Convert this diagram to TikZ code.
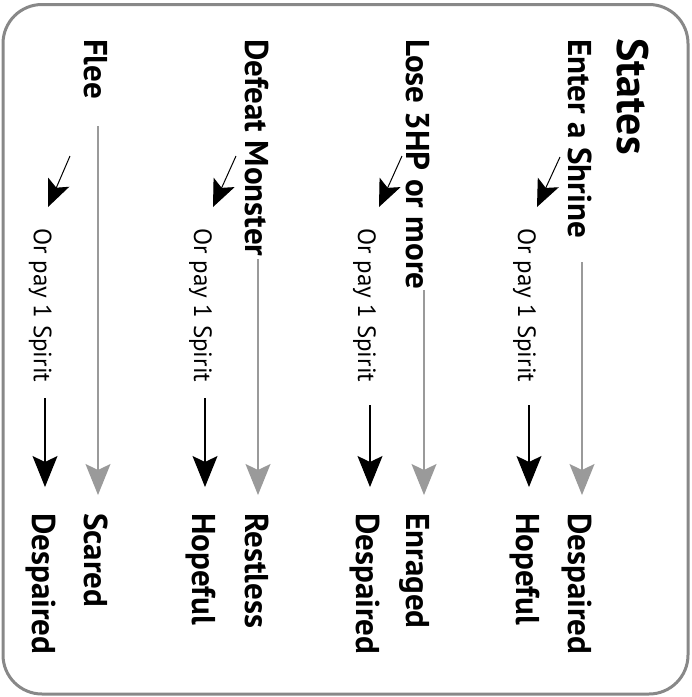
\documentclass[tikz,border=0pt]{standalone}
\usepackage{fontspec}
\setmainfont{PT Sans}
\usetikzlibrary{arrows.meta}
\definecolor{framegray}{HTML}{888888}
\definecolor{arrowgray}{HTML}{9A9A9A}
\begin{document}
\begin{tikzpicture}[x=1pt,y=-1pt,
  frame/.style={draw=framegray, line width=3pt, rounded corners=39pt},
  label/.style={rotate=-90, anchor=base west, inner sep=0pt},
  statelabel/.style={label, font=\fontsize{33}{40}\selectfont\bfseries},
  altlabel/.style={label, font=\fontsize{25}{30}\selectfont},
  titlelabel/.style={label, font=\fontsize{44}{52}\selectfont\bfseries},
  tip/.style={-{Stealth[length=31pt,width=25pt,inset=6pt]}},
  grayarrow/.style={tip, draw=arrowgray, line width=1.3pt},
  blackarrow/.style={tip, draw=black, line width=1.1pt},
  hintarrow/.style={-{Stealth[length=27pt,width=23pt,inset=6pt]}, draw=black, line width=1pt},
  ]
\useasboundingbox (0,0) rectangle (692,697);
\draw[frame] (3,4.5) rectangle (688,694);

\node[titlelabel] (title) at (617,38) {States};

% Enter a Shrine
\node[statelabel] (c1) at (568,39) {Enter a Shrine};
\node[statelabel] (t1) at (568,513) {Despaired};
\node[altlabel] (o1) at (518,228) {Or pay 1 Spirit};
\node[statelabel] (h1) at (516,513) {Hopeful};
\coordinate (g1) at (582,262);
\coordinate (b1) at (529,405);
\coordinate (k1a) at (560,157);
\coordinate (k1b) at (537,207);

% Lose 3HP or more
\node[statelabel] (c2) at (406,39) {Lose 3HP or more};
\node[statelabel] (t2) at (406,513) {Enraged};
\node[altlabel] (o2) at (358,228) {Or pay 1 Spirit};
\node[statelabel] (h2) at (356,513) {Despaired};
\coordinate (g2) at (424,290);
\coordinate (b2) at (370,405);
\coordinate (k2a) at (402,156);
\coordinate (k2b) at (379,207);

% Defeat Monster
\node[statelabel] (c3) at (245,39) {Defeat Monster};
\node[statelabel] (t3) at (245,513) {Restless};
\node[altlabel] (o3) at (194,228) {Or pay 1 Spirit};
\node[statelabel] (h3) at (192,513) {Hopeful};
\coordinate (g3) at (258,259);
\coordinate (b3) at (205,398);
\coordinate (k3a) at (236,156);
\coordinate (k3b) at (213,207);

% Flee
\node[statelabel] (c4) at (84,39) {Flee};
\node[statelabel] (t4) at (84,513) {Scared};
\node[altlabel] (o4) at (34,228) {Or pay 1 Spirit};
\node[statelabel] (h4) at (32,513) {Despaired};
\coordinate (g4) at (98,126);
\coordinate (b4) at (45,398);
\coordinate (k4a) at (70,156);
\coordinate (k4b) at (48,207);

\foreach \i in {1,2,3,4} {
  \draw[grayarrow, shorten >=18pt] (g\i) -- (g\i |- t\i.west);
  \draw[blackarrow, shorten >=26pt] (b\i) -- (b\i |- h\i.west);
  \draw[hintarrow] (k\i a) -- (k\i b);
}
\end{tikzpicture}
\end{document}
